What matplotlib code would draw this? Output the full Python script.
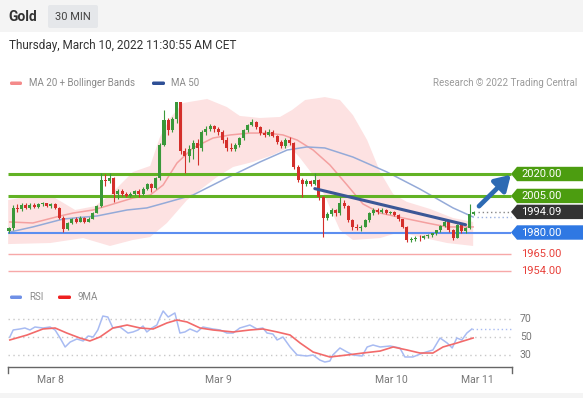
import matplotlib
matplotlib.use("Agg")
import matplotlib.pyplot as plt
from matplotlib.patches import Polygon, Rectangle, FancyBboxPatch
import numpy as np

plt.rcParams['font.family'] = ['Roboto', 'DejaVu Sans']

# ---------------- data ----------------
opens = [1981.0, 1983.0, 1997.0, 1996.0, 1998.5, 1997.0, 1999.0, 1997.5, 1999.5, 2000.0,
         1998.0, 1999.5, 1997.0, 1990.0, 1982.5, 1986.5, 1989.0, 1987.5, 1990.0, 1987.5,
         1989.5, 1993.5, 1998.0, 2016.0, 2015.0, 2017.5, 2006.0, 2008.5, 2006.5, 2005.0,
         2006.5, 2008.5, 2006.0, 2010.0, 2013.0, 2010.5, 2017.0, 2040.0, 2057.0, 2050.0,
         2057.5, 2069.0, 2036.0, 2032.0, 2037.0, 2041.0, 2038.0, 2049.0, 2051.0, 2052.5,
         2050.5, 2049.0, 2043.0, 2038.0, 2037.0, 2039.5, 2044.5, 2050.0, 2053.5, 2055.5,
         2052.0, 2048.0, 2047.0, 2049.0, 2046.0, 2042.0, 2039.0, 2043.0, 2041.0, 2025.0,
         2016.0, 2013.0, 2015.0, 2013.5, 2016.0, 2004.0, 1990.0, 1992.5, 1995.5, 1993.0,
         2000.5, 1998.0, 1988.5, 1983.5, 1983.0, 1984.0, 1988.5, 1993.0, 1995.5, 1994.0,
         1995.5, 1993.5, 1994.0, 1992.0, 1989.0, 1984.0, 1975.0, 1975.5, 1976.5, 1976.0,
         1977.5, 1978.5, 1979.5, 1981.5, 1984.5, 1987.5, 1981.5, 1976.5, 1985.0, 1981.0,
         1983.0, 1992.5]
highs = [1984.0, 1998.5, 1999.5, 2000.0, 2000.5, 2000.0, 2000.0, 2000.5, 2001.0, 2000.5,
         2000.5, 2000.0, 1997.5, 1991.0, 1987.5, 1990.0, 1990.5, 1991.0, 1990.5, 1990.5,
         1994.0, 1998.5, 2020.5, 2020.0, 2020.5, 2018.0, 2010.0, 2009.5, 2008.0, 2007.5,
         2009.0, 2009.5, 2011.0, 2014.0, 2014.0, 2018.0, 2041.0, 2064.0, 2058.0, 2059.0,
         2069.5, 2069.5, 2038.0, 2040.0, 2043.0, 2044.0, 2050.0, 2052.5, 2054.0, 2053.5,
         2052.0, 2050.0, 2045.0, 2041.0, 2041.5, 2045.5, 2051.0, 2054.5, 2057.5, 2056.5,
         2053.0, 2050.0, 2050.5, 2050.0, 2047.0, 2043.5, 2044.5, 2045.0, 2042.0, 2026.0,
         2017.5, 2016.5, 2016.0, 2021.0, 2016.5, 2005.0, 1994.0, 1996.5, 1996.0, 2004.0,
         2002.0, 1999.0, 1989.5, 1985.5, 1985.0, 1989.0, 1994.0, 1996.5, 1996.5, 1996.5,
         1996.0, 1995.0, 1994.5, 1992.5, 1989.5, 1984.5, 1977.0, 1977.5, 1978.0, 1978.5,
         1979.0, 1980.0, 1982.0, 1985.0, 1988.5, 1988.0, 1982.5, 1986.0, 1986.0, 1984.0,
         1999.5, 1995.0]
lows = [1979.5, 1982.0, 1994.0, 1995.0, 1996.0, 1996.0, 1996.5, 1997.0, 1998.0, 1997.5,
        1997.0, 1996.0, 1989.0, 1980.5, 1981.5, 1985.5, 1986.5, 1987.0, 1986.5, 1987.0,
        1989.0, 1993.0, 1997.5, 2012.0, 2014.0, 2001.0, 2003.0, 2005.0, 2004.0, 2004.0,
        2005.5, 2004.5, 2005.5, 2009.0, 2008.0, 2010.0, 2016.0, 2039.0, 2047.0, 2049.0,
        2055.0, 2034.0, 2021.0, 2028.0, 2030.0, 2026.0, 2036.0, 2047.0, 2049.5, 2049.0,
        2047.0, 2041.0, 2036.0, 2035.5, 2036.0, 2038.5, 2043.5, 2049.0, 2052.5, 2050.5,
        2047.0, 2045.5, 2046.0, 2045.0, 2040.5, 2037.5, 2038.0, 2039.5, 2023.5, 2014.5,
        2004.0, 2011.5, 2012.0, 2012.5, 2002.5, 1977.0, 1988.5, 1991.5, 1991.5, 1992.0,
        1997.0, 1987.0, 1982.0, 1981.5, 1981.0, 1983.5, 1987.5, 1992.0, 1992.5, 1993.0,
        1992.5, 1992.5, 1991.0, 1988.0, 1983.0, 1973.5, 1973.5, 1974.0, 1974.5, 1975.5,
        1976.5, 1977.0, 1978.5, 1980.5, 1983.5, 1980.5, 1975.0, 1976.0, 1980.0, 1979.5,
        1982.5, 1992.0]
closes = [1983.0, 1997.0, 1996.0, 1998.5, 1997.0, 1999.0, 1997.5, 1999.5, 2000.0, 1998.0,
          1999.5, 1997.0, 1990.0, 1982.5, 1986.5, 1989.0, 1987.5, 1990.0, 1987.5, 1989.5,
          1993.5, 1998.0, 2016.0, 2015.0, 2017.5, 2006.0, 2008.5, 2006.5, 2005.0, 2006.5,
          2008.5, 2006.0, 2010.0, 2013.0, 2010.5, 2017.0, 2040.0, 2057.0, 2050.0, 2057.5,
          2069.0, 2036.0, 2032.0, 2037.0, 2041.0, 2038.0, 2049.0, 2051.0, 2052.5, 2050.5,
          2049.0, 2043.0, 2038.0, 2037.0, 2039.5, 2044.5, 2050.0, 2053.5, 2055.5, 2052.0,
          2048.0, 2047.0, 2049.0, 2046.0, 2042.0, 2039.0, 2043.0, 2041.0, 2025.0, 2016.0,
          2013.0, 2015.0, 2013.5, 2016.0, 2004.0, 1990.0, 1992.5, 1995.5, 1993.0, 2000.5,
          1998.0, 1988.5, 1983.5, 1983.0, 1984.0, 1988.5, 1993.0, 1995.5, 1994.0, 1995.5,
          1993.5, 1994.0, 1992.0, 1989.0, 1984.0, 1975.0, 1975.5, 1976.5, 1976.0, 1977.5,
          1978.5, 1979.5, 1981.5, 1984.5, 1987.5, 1981.5, 1976.5, 1985.0, 1981.0, 1983.0,
          1992.5, 1994.09]

ma20_idx = [0.2, 5.7, 12.2, 15.3, 20.1, 24.1, 29.6, 33.7, 36.8, 40.1, 43.9, 48.7, 52.8,
            57.5, 61.6, 65.4, 68.8, 72.6, 76.6, 80.7, 84.5, 88.6, 94.1, 99.8, 104.6, 110.8]
ma20_val = [1987.2, 1986.5, 1991.3, 1993.3, 1995.4, 1998.8, 2003.6, 2005.6, 2012.5, 2027.5,
            2037.8, 2044.6, 2046.7, 2048.0, 2048.0, 2046.7, 2043.2, 2036.4, 2026.2, 2012.5,
            1999.5, 1993.3, 1989.9, 1986.5, 1983.8, 1983.8]

ma50_idx = [0.2, 5.7, 12.9, 21.0, 28.2, 32.9, 37.2, 43.9, 52.0, 59.9, 66.4, 71.1, 75.4,
            82.1, 90.2, 98.1, 106.0, 110.8]
ma50_val = [1980.3, 1983.8, 1989.2, 1991.3, 1995.4, 1996.8, 2000.2, 2005.6, 2017.3, 2028.2,
            2036.4, 2038.5, 2037.8, 2031.6, 2021.4, 2009.7, 1996.8, 1990.6]

bbu_idx = [-0.2, 5.7, 11.0, 15.8, 20.5, 24.1, 29.6, 33.7, 36.0, 38.4, 41.5, 47.3, 52.0,
           55.1, 59.9, 64.7, 67.6, 70.7, 75.4, 79.0, 82.1, 85.5, 88.6, 91.7, 95.0, 100.5,
           106.0, 110.8]
bbu_val = [2002.2, 2005.0, 2003.6, 1995.4, 1998.0, 2005.6, 2021.4, 2025.5, 2045.0, 2058.0,
           2068.5, 2071.3, 2065.8, 2059.7, 2058.3, 2059.0, 2063.8, 2070.6, 2072.6, 2070.6,
           2060.3, 2043.2, 2021.4, 2006.3, 2000.9, 1996.1, 1989.9, 1987.2]

bbl_idx = [-0.2, 9.8, 17.7, 24.1, 29.6, 33.7, 37.7, 42.5, 45.6, 49.7, 53.5, 58.2, 63.0,
           67.1, 69.5, 72.6, 75.4, 79.0, 82.1, 88.6, 93.3, 98.1, 104.6, 110.8]
bbl_val = [1972.1, 1972.8, 1976.2, 1970.8, 1974.9, 1976.9, 1986.5, 2002.2, 2009.1, 2018.0,
           2024.8, 2028.2, 2033.0, 2038.5, 2030.9, 2019.3, 2005.0, 1981.7, 1974.9, 1976.2,
           1980.3, 1976.9, 1972.8, 1970.8]

rsi_idx = [0.2, 1.0, 2.6, 3.8, 5.0, 6.2, 8.1, 9.8, 11.0, 12.2, 13.4, 14.6, 16.2, 17.7, 18.9,
           20.1, 21.2, 22.4, 23.6, 24.8, 26.5, 28.4, 29.6, 30.8, 32.0, 32.9, 34.1, 35.3, 36.0,
           36.8, 38.0, 39.6, 40.8, 42.0, 43.2, 44.9, 46.3, 48.7, 50.4, 52.0, 53.5, 55.1, 57.5,
           59.2, 60.6, 61.6, 63.0, 64.0, 65.4, 67.1, 68.8, 71.1, 72.6, 74.2, 75.4, 76.6, 77.3,
           79.0, 80.7, 82.1, 84.3, 85.5, 86.9, 88.6, 91.0, 93.3, 94.5, 96.4, 98.8, 101.2,
           102.9, 104.6, 105.8, 106.9, 108.1, 109.3, 110.5]
rsi_val = [50.0, 57.8, 58.9, 60.0, 57.8, 61.1, 60.0, 61.1, 57.8, 48.9,
           38.9, 44.4, 47.8, 45.6, 51.1, 50.0, 57.8, 73.3, 72.2, 60.0,
           61.1, 54.4, 55.6, 57.8, 62.2, 55.6, 60.0, 63.3, 71.1, 78.9,
           72.2, 76.7, 54.4, 55.6, 58.9, 55.6, 61.1, 58.9, 57.8, 54.4,
           54.4, 60.0, 63.3, 58.9, 60.0, 54.4, 53.3, 46.7, 50.0, 38.9,
           30.0, 28.9, 30.0, 24.4, 22.2, 23.3, 30.0, 37.8, 33.3, 30.0,
           28.9, 38.9, 41.1, 38.9, 40.0, 37.8, 27.8, 27.8, 32.2, 35.6,
           48.9, 43.3, 37.8, 48.9, 46.7, 54.4, 58.9]

ma9_idx = [0.2, 4.3, 8.1, 11.0, 13.8, 16.9, 19.3, 21.7, 24.8, 28.2, 31.3, 34.4, 37.7, 40.1,
           42.5, 45.6, 48.7, 53.5, 57.5, 60.6, 64.0, 67.1, 69.5, 72.6, 76.6, 80.7, 84.5, 88.6,
           91.7, 95.0, 98.1, 101.2, 103.6, 106.9, 110.8]
ma9_val = [46.7, 52.2, 58.9, 60.0, 54.4, 48.9, 45.6, 50.0, 60.0, 63.3,
           60.0, 58.9, 65.6, 68.9, 66.7, 60.0, 57.8, 55.6, 57.8, 58.9,
           55.6, 52.2, 43.3, 33.3, 27.8, 30.0, 32.2, 34.4, 38.9, 35.6,
           32.2, 32.2, 38.9, 43.3, 48.9]

resistances = [2020.00, 2005.00]
pivot = [1980.00]
supports = [1965.00, 1954.00]
last_price = 1994.09
trend_idx = [73.0, 109.0]
trend_val = [2010.0, 1985.3]
arrow_idx = [112.2, 119.8]
arrow_val = [1998.0, 2019.5]
rsi_levels = [70, 50, 30]
tick_pos = [9.8, 49.9, 91.2, 111.7]
tick_lab = ["Mar 8", "Mar 9", "Mar 10", "Mar 11"]

# ---------------- layout helpers ----------------
W, H = 583, 398
def px_to_idx(px):
    return (px - 9) / 4.189
def price_at(y):
    return 2020 - (y - 174) / 1.4625
def rsi_at(y):
    return 50 - (y - 337) / 0.9

fig = plt.figure(figsize=(W / 100, H / 100), dpi=100)
fig.patch.set_facecolor('white')

over = fig.add_axes([0, 0, 1, 1], zorder=-5)
over.set_xlim(0, W); over.set_ylim(H, 0); over.axis('off')
over.add_patch(Rectangle((0, 0), W, 32, color='#f4f4f4', lw=0))
over.add_patch(Rectangle((0, 393), W, 5, color='#f4f4f4', lw=0))
over.text(8, 17, "Gold", fontsize=10, fontweight='bold', color='#333333', va='center')
over.add_patch(FancyBboxPatch((48, 5), 50, 23, boxstyle="round,pad=0,rounding_size=2",
                              color='#e5e7ea', lw=0))
over.text(73, 17, "30 MIN", fontsize=8, color='#444444', va='center', ha='center')
over.text(9, 46, "Thursday, March 10, 2022 11:30:55 AM CET", fontsize=8.5,
          color='#333333', va='center')
over.add_patch(FancyBboxPatch((10, 81.5), 12, 3.5, boxstyle="round,pad=0,rounding_size=1.5",
                              color='#f48a8a', lw=0))
over.text(29, 83, "MA 20 + Bollinger Bands", fontsize=7, color='#8a8a8a', va='center')
over.add_patch(FancyBboxPatch((152, 81.5), 13, 3.5, boxstyle="round,pad=0,rounding_size=1.5",
                              color='#2e4f96', lw=0))
over.text(171, 83, "MA 50", fontsize=7, color='#8a8a8a', va='center')
over.text(577, 83, "Research \u00a9 2022 Trading Central", fontsize=7, color='#9a9a9a',
          va='center', ha='right')
over.add_patch(FancyBboxPatch((10, 295.5), 12, 3.5, boxstyle="round,pad=0,rounding_size=1.5",
                              color='#6f90e6', lw=0))
over.text(29, 297, "RSI", fontsize=7, color='#8a8a8a', va='center')
over.add_patch(FancyBboxPatch((58, 295.5), 13, 3.5, boxstyle="round,pad=0,rounding_size=1.5",
                              color='#ee2020', lw=0))
over.text(78, 297, "9MA", fontsize=7, color='#8a8a8a', va='center')

# ---------------- main price axes ----------------
ax = fig.add_axes([0, 1 - 280 / H, 1, (280 - 90) / H])
ax.set_facecolor('none')
ax.set_xlim(px_to_idx(0), px_to_idx(W))
ax.set_ylim(price_at(280), price_at(90))
ax.axis('off')

band_x = list(bbu_idx) + list(bbl_idx[::-1])
band_y = list(bbu_val) + list(bbl_val[::-1])
ax.fill(band_x, band_y, color='#fde2e2', lw=0, zorder=1)

ax.plot(ma20_idx, ma20_val, color='#f4a0a0', lw=1.1, zorder=2)
ax.plot(ma50_idx, ma50_val, color='#94aad8', lw=1.1, zorder=2)

x0, x1 = px_to_idx(8), px_to_idx(511)
for lv in resistances:
    ax.hlines(lv, x0, x1, color='#62b224', lw=2.2, zorder=3)
for lv in pivot:
    ax.hlines(lv, x0, x1, color='#5c8ef0', lw=1.5, zorder=3)
for lv in supports:
    ax.hlines(lv, x0, x1, color='#f7a8a8', lw=1.0, zorder=3)

idx = np.arange(len(closes))
o = np.array(opens); c = np.array(closes)
cols = np.where(c >= o, '#3a983a', '#d42f2b')
ax.vlines(idx, lows, highs, colors=cols, lw=0.8, zorder=4)
ax.bar(idx, np.maximum(np.abs(c - o), 0.5), bottom=np.minimum(o, c), width=0.72,
       color=cols, lw=0, zorder=5)

ax.plot(trend_idx, trend_val, color='#3b5796', lw=2.2, solid_capstyle='round', zorder=6)

# dotted extensions
ax.hlines(last_price, px_to_idx(478), px_to_idx(511), color='#888888', lw=1,
          linestyles=(0, (1, 2)), zorder=3)
ax.hlines(ma50_val[-1], px_to_idx(477), px_to_idx(511), color='#9ab0e0', lw=1,
          linestyles=(0, (1, 2)), zorder=3)

ax.annotate('', xy=(arrow_idx[1], arrow_val[1]), xytext=(arrow_idx[0], arrow_val[0]),
            arrowprops=dict(arrowstyle='-|>,head_length=0.9,head_width=0.55', lw=3.4,
                            color='#2d6ab3', shrinkA=0, shrinkB=0), zorder=7)

# tags
hh = 7.2 / 1.4625
xa, xb, xc = px_to_idx(511), px_to_idx(517), px_to_idx(W + 2)
def tag(level, color, label):
    pts = [(xa, level), (xb, level + hh), (xc, level + hh), (xc, level - hh), (xb, level - hh)]
    ax.add_patch(Polygon(pts, closed=True, color=color, lw=0, clip_on=False, zorder=8))
    ax.text(px_to_idx(521), level, label, color='white', fontsize=8, va='center',
            ha='left', clip_on=False, zorder=9)
for lv in resistances:
    tag(lv, '#4c9d10', f"{lv:.2f}")
tag(last_price, '#333333', f"{last_price:.2f}")
for lv in pivot:
    tag(lv, '#2f78e3', f"{lv:.2f}")
for lv in supports:
    ax.text(px_to_idx(521), lv, f"{lv:.2f}", color='#e8403a', fontsize=8, va='center',
            ha='left', clip_on=False)

# ---------------- RSI axes ----------------
rx = fig.add_axes([0, 1 - 367 / H, 1, (367 - 300) / H])
rx.set_facecolor('none')
rx.set_xlim(px_to_idx(0), px_to_idx(W))
rx.set_ylim(rsi_at(367), rsi_at(300))
for s in ['top', 'right', 'left']:
    rx.spines[s].set_visible(False)
rx.spines['bottom'].set_bounds(px_to_idx(8), px_to_idx(512))
rx.spines['bottom'].set_color('#666666')
rx.spines['bottom'].set_linewidth(1)
rx.set_yticks([])
rx.set_xticks(tick_pos, tick_lab)
rx.tick_params(axis='x', length=0, pad=6, labelsize=7.5, labelcolor='#777777')
for xe in [px_to_idx(8), px_to_idx(512)]:
    rx.plot([xe, xe], [rsi_at(367), rsi_at(373)], color='#666666', lw=1, clip_on=False)

for lv in rsi_levels:
    rx.hlines(lv, px_to_idx(8), px_to_idx(512), color='#c8c8c8', lw=1,
              linestyles=(0, (1, 2.5)))
    rx.text(px_to_idx(520), lv, str(lv), fontsize=7.5, color='#777777', va='center',
            ha='left', clip_on=False)
rx.plot(rsi_idx, rsi_val, color='#a8bbf2', lw=1.1)
rx.plot(ma9_idx, ma9_val, color='#f26a6a', lw=1.2)
rx.hlines(rsi_val[-1], rsi_idx[-1], px_to_idx(512), color='#a8bbf2', lw=1,
          linestyles=(0, (1, 2)))

fig.savefig("out.png", dpi=100, facecolor='white')
